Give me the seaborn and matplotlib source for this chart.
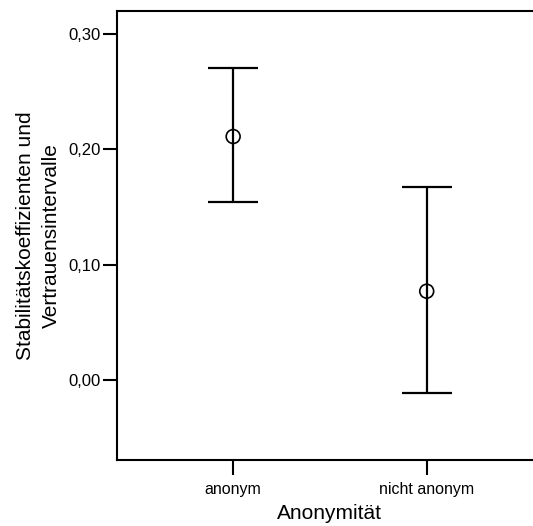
import matplotlib
matplotlib.use("Agg")
import matplotlib.pyplot as plt
import seaborn as sns
import numpy as np

categories = ["anonym", "nicht anonym"]
means = [0.211, 0.077]
lower = [0.154, -0.0115]
upper = [0.270, 0.1675]

ytick_values = [0.00, 0.10, 0.20, 0.30]
ytick_labels = ["0,00", "0,10", "0,20", "0,30"]


def main():
    sns.set_style("ticks")
    plt.rcParams["font.family"] = ["Liberation Sans", "DejaVu Sans"]
    plt.rcParams["text.color"] = "black"
    plt.rcParams["axes.labelcolor"] = "black"

    fig = plt.figure(figsize=(5.33, 5.26), dpi=100)
    ax = fig.add_axes([0.2195, 0.1255, 0.799, 0.8535])

    m = np.array(means)
    err = np.array([m - np.array(lower), np.array(upper) - m])
    ax.errorbar(categories, means, yerr=err, fmt="none", ecolor="black",
                elinewidth=1.6, capsize=18, capthick=1.6, zorder=2)
    sns.scatterplot(x=categories, y=means, ax=ax, marker="o", s=100,
                    facecolor="none", edgecolor="black", linewidth=1.2,
                    zorder=3)

    ax.set_xlim(-0.6, 1.6)
    ax.set_ylim(-0.0692, 0.3197)
    ax.set_yticks(ytick_values)
    ax.set_yticklabels(ytick_labels)

    for side in ["left", "bottom", "top"]:
        ax.spines[side].set_visible(True)
        ax.spines[side].set_linewidth(1.5)
        ax.spines[side].set_color("black")
    ax.spines["right"].set_visible(False)

    ax.tick_params(axis="both", direction="out", length=10, width=1.5,
                   labelsize=12, colors="black", pad=2)
    ax.tick_params(axis="x", length=11, pad=5, labelsize=11.5)

    ax.set_xlabel("Anonymität", fontsize=15, labelpad=5)
    ax.set_ylabel("Stabilitätskoeffizienten und\nVertrauensintervalle",
                  fontsize=15, labelpad=5, linespacing=1.45)

    fig.savefig("out.png", dpi=100)
    plt.close(fig)


if __name__ == "__main__":
    main()
